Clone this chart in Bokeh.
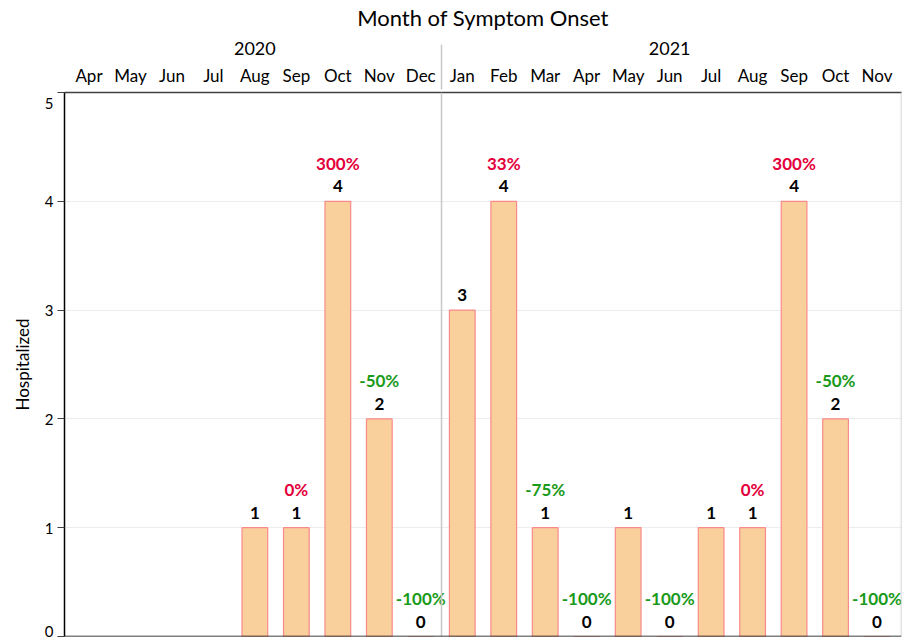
from bokeh.plotting import figure
from bokeh.models import (ColumnDataSource, FactorRange, Range1d, FixedTicker, Span)
from bokeh.core.properties import value
from bokeh.embed import file_html
from bokeh.resources import INLINE

# ---- data ----
years = ["2020"] * 9 + ["2021"] * 11
months = ["Apr", "May", "Jun", "Jul", "Aug", "Sep", "Oct", "Nov", "Dec",
          "Jan", "Feb", "Mar", "Apr", "May", "Jun", "Jul", "Aug", "Sep", "Oct", "Nov"]
hospitalized = [None, None, None, None, 1, 1, 4, 2, 0,
                3, 4, 1, 0, 1, 0, 1, 1, 4, 2, 0]
pct_labels = ["", "", "", "", "", "0%", "300%", "-50%", "-100%",
              "", "33%", "-75%", "-100%", "", "-100%", "", "0%", "300%", "-50%", "-100%"]
y_ticks = [0, 1, 2, 3, 4, 5]

FONT = "Lato"
RED = "#e4003b"
GREEN = "#1a9a1a"

factors = list(zip(years, months))

xs, vals, cnt_txt, pct_txt, pct_col = [], [], [], [], []
for f, v, p_ in zip(factors, hospitalized, pct_labels):
    if v is None:
        continue
    xs.append(f)
    vals.append(v)
    cnt_txt.append(str(v))
    pct_txt.append(p_)
    pct_col.append(GREEN if p_.startswith("-") else RED)

src = ColumnDataSource(dict(x=xs, top=vals, cnt=cnt_txt, pct=pct_txt, pcol=pct_col))

x_range = FactorRange(factors=factors, group_padding=0, factor_padding=0,
                      range_padding=0.09, range_padding_units="absolute")

p = figure(x_range=x_range, y_range=Range1d(0, 5), width=913, height=639,
           output_backend="svg", toolbar_location=None, x_axis_location="above",
           min_border_left=64, min_border_right=12, min_border_top=92, min_border_bottom=3)
p.outline_line_color = None
p.background_fill_color = "white"

p.vbar(x="x", top="top", width=0.62, source=src, fill_color="#f9cf9b",
       line_color="#f98a8a", line_width=1.2)

p.text(x="x", y="top", text="cnt", source=src, text_align="center",
       text_baseline="alphabetic", y_offset=-15, text_font=value(FONT),
       text_font_size="17px", text_font_style="bold", text_color="black")

p.text(x="x", y="top", text="pct", source=src, text_align="center",
       text_baseline="alphabetic", y_offset=-38, text_color="pcol",
       text_font=value(FONT), text_font_size="17px", text_font_style="bold")

# dividers
p.add_layout(Span(location=9, dimension="height", line_color="#c8c8c8", line_width=1.5))
p.add_layout(Span(location=20.09, dimension="height", line_color="#c8c8c8", line_width=1.5))
p.add_layout(Span(location=0, dimension="width", line_color="black", line_width=1.5))

# top categorical axis
xa = p.xaxis[0]
xa.axis_label = "Month of Symptom Onset"
xa.axis_label_text_font = FONT
xa.axis_label_text_font_size = "22px"
xa.axis_label_text_font_style = "normal"
xa.axis_label_text_color = "black"
xa.axis_label_standoff = 8
xa.major_label_text_font = FONT
xa.major_label_text_font_size = "17px"
xa.major_label_text_color = "black"
xa.major_label_standoff = 7
xa.group_text_font = FONT
xa.group_text_font_size = "18px"
xa.group_text_font_style = "normal"
xa.group_text_color = "black"
xa.major_tick_out = 0
xa.major_tick_in = 0
xa.minor_tick_out = 0
xa.minor_tick_in = 0
xa.major_tick_line_color = None
xa.minor_tick_line_color = None
xa.axis_line_color = "#404040"
xa.axis_line_width = 1.5
xa.separator_line_color = "#c8c8c8"
xa.separator_line_width = 1.5

# y axis
ya = p.yaxis[0]
ya.ticker = FixedTicker(ticks=y_ticks)
ya.axis_label = "Hospitalized"
ya.axis_label_text_font = FONT
ya.axis_label_text_font_size = "17px"
ya.axis_label_text_font_style = "normal"
ya.axis_label_text_color = "black"
ya.axis_label_standoff = 9
ya.major_label_text_font = FONT
ya.major_label_text_font_size = "15px"
ya.major_label_text_color = "black"
ya.major_label_standoff = 4
ya.major_label_overrides = {5: " \n5"}
ya.major_tick_out = 7
ya.major_tick_in = 0
ya.minor_tick_line_color = None
ya.major_tick_line_color = "#404040"
ya.axis_line_color = "black"
ya.axis_line_width = 1.5

p.xgrid.grid_line_color = None
p.ygrid.grid_line_color = "#ececec"
p.ygrid.ticker = FixedTicker(ticks=y_ticks)

open("out.html", "w").write(file_html(p, INLINE))
